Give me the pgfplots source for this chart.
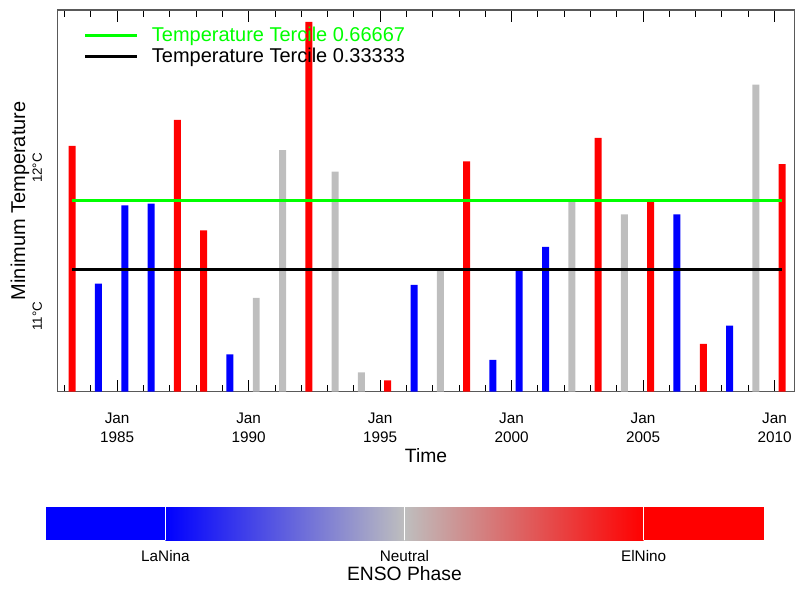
\documentclass[border=0pt]{standalone}
\usepackage{fontspec}
\setmainfont{Liberation Sans}
\usepackage{pgfplots}
\pgfplotsset{compat=1.18}

\definecolor{ninared}{RGB}{255,0,0}
\definecolor{ninablue}{RGB}{0,0,255}
\definecolor{ninagray}{RGB}{190,190,190}
\definecolor{tercgreen}{RGB}{0,255,0}

\begin{document}
\begin{tikzpicture}
\begin{axis}[
  scale only axis, width=554pt, height=286.7pt,
  xmin=1982.722, xmax=2010.77, ymin=10.4906, ymax=13.0667,
  axis line style={black!65, line width=0.8pt},
  tick align=inside, tick style={black, line width=0.6pt},
  major tick length=9pt, minor tick length=5pt,
  xtick={1985,1990,1995,2000,2005,2010},
  xticklabels={{Jan\\1985},{Jan\\1990},{Jan\\1995},{Jan\\2000},{Jan\\2005},{Jan\\2010}},
  minor xtick={1983,1984,...,2010},
  xticklabel style={align=center, font=\fontsize{11.5}{14.5}\selectfont, anchor=north, yshift=-12.5pt},
  ytick={11,12}, yticklabels={11°C,12°C},
  ytick style={draw=none},
  minor ytick={10.6,10.8,11,11.2,11.4,11.6,11.8,12,12.2,12.4,12.6,12.8},
  yticklabel style={rotate=90, anchor=south, font=\fontsize{10}{12}\selectfont},
  yticklabel shift=8pt,
  xlabel={Time}, ylabel={Minimum Temperature},
  every axis x label/.style={at={(axis description cs:0.5,0)}, anchor=center, yshift=-48.3pt, font=\fontsize{14.5}{16}\selectfont},
  every axis y label/.style={at={(axis description cs:-0.0505,0.5)}, anchor=center, rotate=90, font=\fontsize{15}{17}\selectfont},
  legend style={at={(0.036,0.962)}, anchor=north west, draw=none, fill=none,
    font=\fontsize{15}{15}\selectfont, row sep=-0.75pt, column sep=8pt, inner sep=0pt},
  legend cell align=left,
  legend image code/.code={\draw[#1] (0pt,0pt) -- (39pt,0pt);},
]
% El Nino years
\addplot[ybar, bar width=5.25pt, fill=ninared, draw=none, forget plot] coordinates {
  (1983.29,12.150) (1987.29,12.325) (1988.29,11.580) (1992.29,12.986)
  (1995.29,10.567) (1998.29,12.045) (2003.29,12.204) (2005.29,11.771)
  (2007.29,10.814) (2010.29,12.027)};
% La Nina years
\addplot[ybar, bar width=5.25pt, fill=ninablue, draw=none, forget plot] coordinates {
  (1984.29,11.220) (1985.29,11.748) (1986.29,11.759) (1989.29,10.742)
  (1996.29,11.212) (1999.29,10.706) (2000.29,11.310) (2001.29,11.468)
  (2006.29,11.687) (2008.29,10.937)};
% neutral years
\addplot[ybar, bar width=5.25pt, fill=ninagray, draw=none, forget plot] coordinates {
  (1990.29,11.124) (1991.29,12.121) (1993.29,11.975) (1994.29,10.621)
  (1997.29,11.310) (2002.29,11.771) (2004.29,11.687) (2009.29,12.563)};
% terciles
\addplot[tercgreen, line width=2pt] coordinates {(1983.29,11.780) (2010.29,11.780)};
\addlegendentry[text=tercgreen]{Temperature Tercile 0.66667}
\addplot[black, line width=2pt] coordinates {(1983.29,11.313) (2010.29,11.313)};
\addlegendentry{Temperature Tercile 0.33333}
\end{axis}

% ENSO colour bar
\fill[ninablue] (-8.6pt,-111.5pt) rectangle (81.3pt,-87pt);
\shade[left color=ninablue, right color=ninagray] (81.3pt,-111.5pt) rectangle (260.8pt,-87pt);
\shade[left color=ninagray, right color=ninared] (260.8pt,-111.5pt) rectangle (440.5pt,-87pt);
\fill[ninared] (440.5pt,-111.5pt) rectangle (530.8pt,-87pt);
\foreach \x in {81.3,260.8,440.5}
  \draw[white, line width=0.6pt] (\x pt,-111.5pt) -- (\x pt,-87pt);
\node[font=\fontsize{11.5}{13}\selectfont] at (81.3pt,-123.3pt) {LaNina};
\node[font=\fontsize{11.5}{13}\selectfont] at (260.8pt,-123.3pt) {Neutral};
\node[font=\fontsize{11.5}{13}\selectfont] at (440.5pt,-123.3pt) {ElNino};
\node[font=\fontsize{14.5}{16}\selectfont] at (260.8pt,-137pt) {ENSO Phase};

\useasboundingbox (-43pt,-147.5pt) rectangle (554pt,294.2pt);
\end{tikzpicture}
\end{document}
